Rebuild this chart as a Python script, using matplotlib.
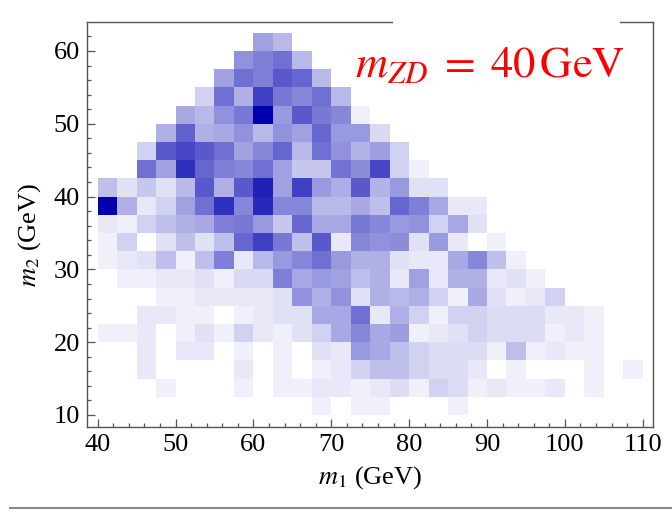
import matplotlib
matplotlib.use("Agg")
import matplotlib.pyplot as plt
import numpy as np
from matplotlib.colors import LinearSegmentedColormap
from matplotlib.patches import Rectangle
from matplotlib.lines import Line2D
from matplotlib.ticker import MultipleLocator

plt.rcParams["font.family"] = ["Liberation Serif", "DejaVu Serif"]
plt.rcParams["mathtext.fontset"] = "stix"

# Histogram binning (GeV)
m1_edges = np.arange(40.0, 110.0 + 0.01, 2.5)   # 28 bins
m2_edges = np.arange(10.0, 62.5 + 0.01, 2.5)    # 21 bins

# Normalised event density, one row per m2 bin (lowest m2 first),
# one entry per m1 bin (40 -> 110 GeV)
row_m2_10_0 = [0, 0, 0, 0, 0, 0, 0, 0, 0, 0, 0, 0.06, 0, 0.06, 0.06, 0, 0, 0, 0.06, 0, 0, 0, 0, 0, 0, 0, 0, 0]
row_m2_12_5 = [0, 0, 0, 0.06, 0, 0, 0, 0.06, 0, 0.06, 0.06, 0.09, 0.09, 0.06, 0.09, 0.14, 0.06, 0.18, 0.14, 0.06, 0.09, 0.06, 0.06, 0.09, 0, 0.06, 0, 0]
row_m2_15_0 = [0, 0, 0.09, 0, 0, 0, 0, 0.09, 0, 0.06, 0, 0.06, 0.09, 0.18, 0.25, 0.25, 0.18, 0.14, 0.14, 0.09, 0, 0.06, 0, 0, 0, 0.06, 0, 0.06]
row_m2_17_5 = [0, 0, 0.09, 0, 0.09, 0.09, 0, 0.06, 0, 0.06, 0, 0.12, 0.09, 0.40, 0.34, 0.25, 0.18, 0.14, 0.14, 0.14, 0.06, 0.25, 0.06, 0.09, 0.06, 0.06, 0, 0]
row_m2_20_0 = [0.06, 0.06, 0.09, 0, 0.06, 0.12, 0.06, 0.18, 0.09, 0.06, 0.12, 0.18, 0.34, 0.47, 0.34, 0.39, 0.06, 0.09, 0.12, 0.18, 0.14, 0.14, 0.14, 0.06, 0.09, 0.06, 0, 0]
row_m2_22_5 = [0, 0, 0.09, 0.09, 0.06, 0.06, 0, 0.06, 0.09, 0.12, 0.12, 0.34, 0.34, 0.56, 0.09, 0.31, 0.18, 0.06, 0.18, 0.18, 0.14, 0.14, 0.14, 0.09, 0.09, 0.06, 0, 0]
row_m2_25_0 = [0, 0, 0, 0.06, 0.06, 0.09, 0.09, 0.09, 0.09, 0.12, 0.43, 0.31, 0.43, 0.12, 0.31, 0.28, 0.31, 0.18, 0.06, 0.34, 0.12, 0.06, 0.09, 0.18, 0, 0, 0, 0]
row_m2_27_5 = [0, 0.06, 0.06, 0.09, 0.09, 0.12, 0.06, 0.15, 0.15, 0.50, 0.34, 0.40, 0.37, 0.25, 0.31, 0.09, 0.37, 0.09, 0.31, 0.31, 0.09, 0.12, 0.06, 0, 0, 0, 0, 0]
row_m2_30_0 = [0.06, 0.09, 0.12, 0.25, 0.06, 0.25, 0.50, 0.09, 0.28, 0.40, 0.47, 0.56, 0.40, 0.31, 0.31, 0.12, 0.09, 0.09, 0.34, 0.47, 0.25, 0.06, 0, 0, 0, 0, 0, 0]
row_m2_32_5 = [0.06, 0.18, 0, 0.12, 0.25, 0.12, 0.25, 0.60, 0.75, 0.53, 0.25, 0.65, 0.09, 0.47, 0.43, 0.45, 0.12, 0.40, 0.09, 0, 0.06, 0, 0, 0, 0, 0, 0, 0]
row_m2_35_0 = [0.09, 0.06, 0.18, 0.25, 0.31, 0.34, 0.50, 0.53, 0.40, 0.22, 0.60, 0.34, 0.34, 0.53, 0.47, 0.40, 0.43, 0.18, 0.34, 0.12, 0, 0, 0, 0, 0, 0, 0, 0]
row_m2_37_5 = [1.00, 0.31, 0.09, 0.18, 0.37, 0.56, 0.81, 0.47, 0.84, 0.47, 0.47, 0.28, 0.28, 0.34, 0.25, 0.60, 0.50, 0.34, 0.09, 0.09, 0, 0, 0, 0, 0, 0, 0, 0]
row_m2_40_0 = [0.25, 0.12, 0.22, 0.12, 0.28, 0.65, 0.31, 0.65, 0.87, 0.37, 0.75, 0.40, 0.32, 0.65, 0.30, 0.40, 0.12, 0.12, 0, 0, 0, 0, 0, 0, 0, 0, 0, 0]
row_m2_42_5 = [0, 0, 0.56, 0.37, 0.81, 0.60, 0.50, 0.47, 0.56, 0.37, 0.22, 0.22, 0.55, 0.45, 0.72, 0.18, 0.06, 0, 0, 0, 0, 0, 0, 0, 0, 0, 0, 0]
row_m2_45_0 = [0, 0, 0.18, 0.65, 0.72, 0.65, 0.56, 0.37, 0.47, 0.60, 0.28, 0.56, 0.43, 0.30, 0.38, 0.18, 0, 0, 0, 0, 0, 0, 0, 0, 0, 0, 0, 0]
row_m2_47_5 = [0, 0, 0, 0.31, 0.62, 0.31, 0.34, 0.43, 0.28, 0.43, 0.37, 0.60, 0.40, 0.40, 0.15, 0, 0, 0, 0, 0, 0, 0, 0, 0, 0, 0, 0, 0]
row_m2_50_0 = [0, 0, 0, 0, 0.34, 0.28, 0.43, 0.53, 1.00, 0.40, 0.65, 0.53, 0.47, 0.06, 0, 0, 0, 0, 0, 0, 0, 0, 0, 0, 0, 0, 0, 0]
row_m2_52_5 = [0, 0, 0, 0, 0, 0.18, 0.56, 0.31, 0.75, 0.53, 0.47, 0.56, 0.28, 0, 0, 0, 0, 0, 0, 0, 0, 0, 0, 0, 0, 0, 0, 0]
row_m2_55_0 = [0, 0, 0, 0, 0, 0, 0.37, 0.56, 0.50, 0.65, 0.60, 0.28, 0, 0, 0, 0, 0, 0, 0, 0, 0, 0, 0, 0, 0, 0, 0, 0]
row_m2_57_5 = [0, 0, 0, 0, 0, 0, 0, 0.43, 0.50, 0.56, 0.28, 0, 0, 0, 0, 0, 0, 0, 0, 0, 0, 0, 0, 0, 0, 0, 0, 0]
row_m2_60_0 = [0, 0, 0, 0, 0, 0, 0, 0, 0.37, 0.28, 0, 0, 0, 0, 0, 0, 0, 0, 0, 0, 0, 0, 0, 0, 0, 0, 0, 0]

density = np.array([
    row_m2_10_0, row_m2_12_5, row_m2_15_0, row_m2_17_5, row_m2_20_0,
    row_m2_22_5, row_m2_25_0, row_m2_27_5, row_m2_30_0, row_m2_32_5,
    row_m2_35_0, row_m2_37_5, row_m2_40_0, row_m2_42_5, row_m2_45_0,
    row_m2_47_5, row_m2_50_0, row_m2_52_5, row_m2_55_0, row_m2_57_5,
    row_m2_60_0,
])

x_ticks = [40, 50, 60, 70, 80, 90, 100, 110]
y_ticks = [10, 20, 30, 40, 50, 60]
label_text = r"$m_{ZD}\;=\;40\,\mathrm{GeV}$"

W, H = 672, 520
fig = plt.figure(figsize=(W / 100, H / 100), dpi=100)
ax = fig.add_axes([87 / W, 93 / H, 566.3 / W, 404.7 / H])

cmap = LinearSegmentedColormap.from_list("white_blue", ["#ffffff", "#0000b0"])
ax.pcolormesh(m1_edges, m2_edges, density, cmap=cmap, vmin=0, vmax=1,
              shading="flat", edgecolors="none", antialiased=False)

ax.set_xlim(38.63, 111.36)
ax.set_ylim(8.35, 63.94)

frame_col = "#555555"
for s in ax.spines.values():
    s.set_color(frame_col)
    s.set_linewidth(1.0)

ax.set_xticks(x_ticks)
ax.set_yticks(y_ticks)
ax.xaxis.set_minor_locator(MultipleLocator(2))
ax.yaxis.set_minor_locator(MultipleLocator(2))
ax.tick_params(which="both", direction="in", color=frame_col, width=0.9,
               top=False, right=False, labelsize=19, pad=5)
ax.tick_params(which="major", length=5.5)
ax.tick_params(which="minor", length=3.1)

ax.set_xlabel(r"$m_1$ (GeV)", fontsize=19, labelpad=6)
ax.set_ylabel(r"$m_2$ (GeV)", fontsize=19, labelpad=8)
ax.yaxis.label.set_y(0.474)

# white patch interrupting the top frame behind the mass label
ax.add_patch(Rectangle((0.540, 0.975), 0.401, 0.05, transform=ax.transAxes,
                       facecolor="white", edgecolor="none", clip_on=False, zorder=5))

fig.text(355 / W, (H - 77) / H, label_text, color="red", fontsize=32,
         ha="left", va="baseline")

# separator rule under the figure
fig.add_artist(Line2D([10 / W, 1.0], [(H - 508) / H] * 2, color="#888888",
                      linewidth=1.5, transform=fig.transFigure))

fig.savefig("out.png", dpi=100)
